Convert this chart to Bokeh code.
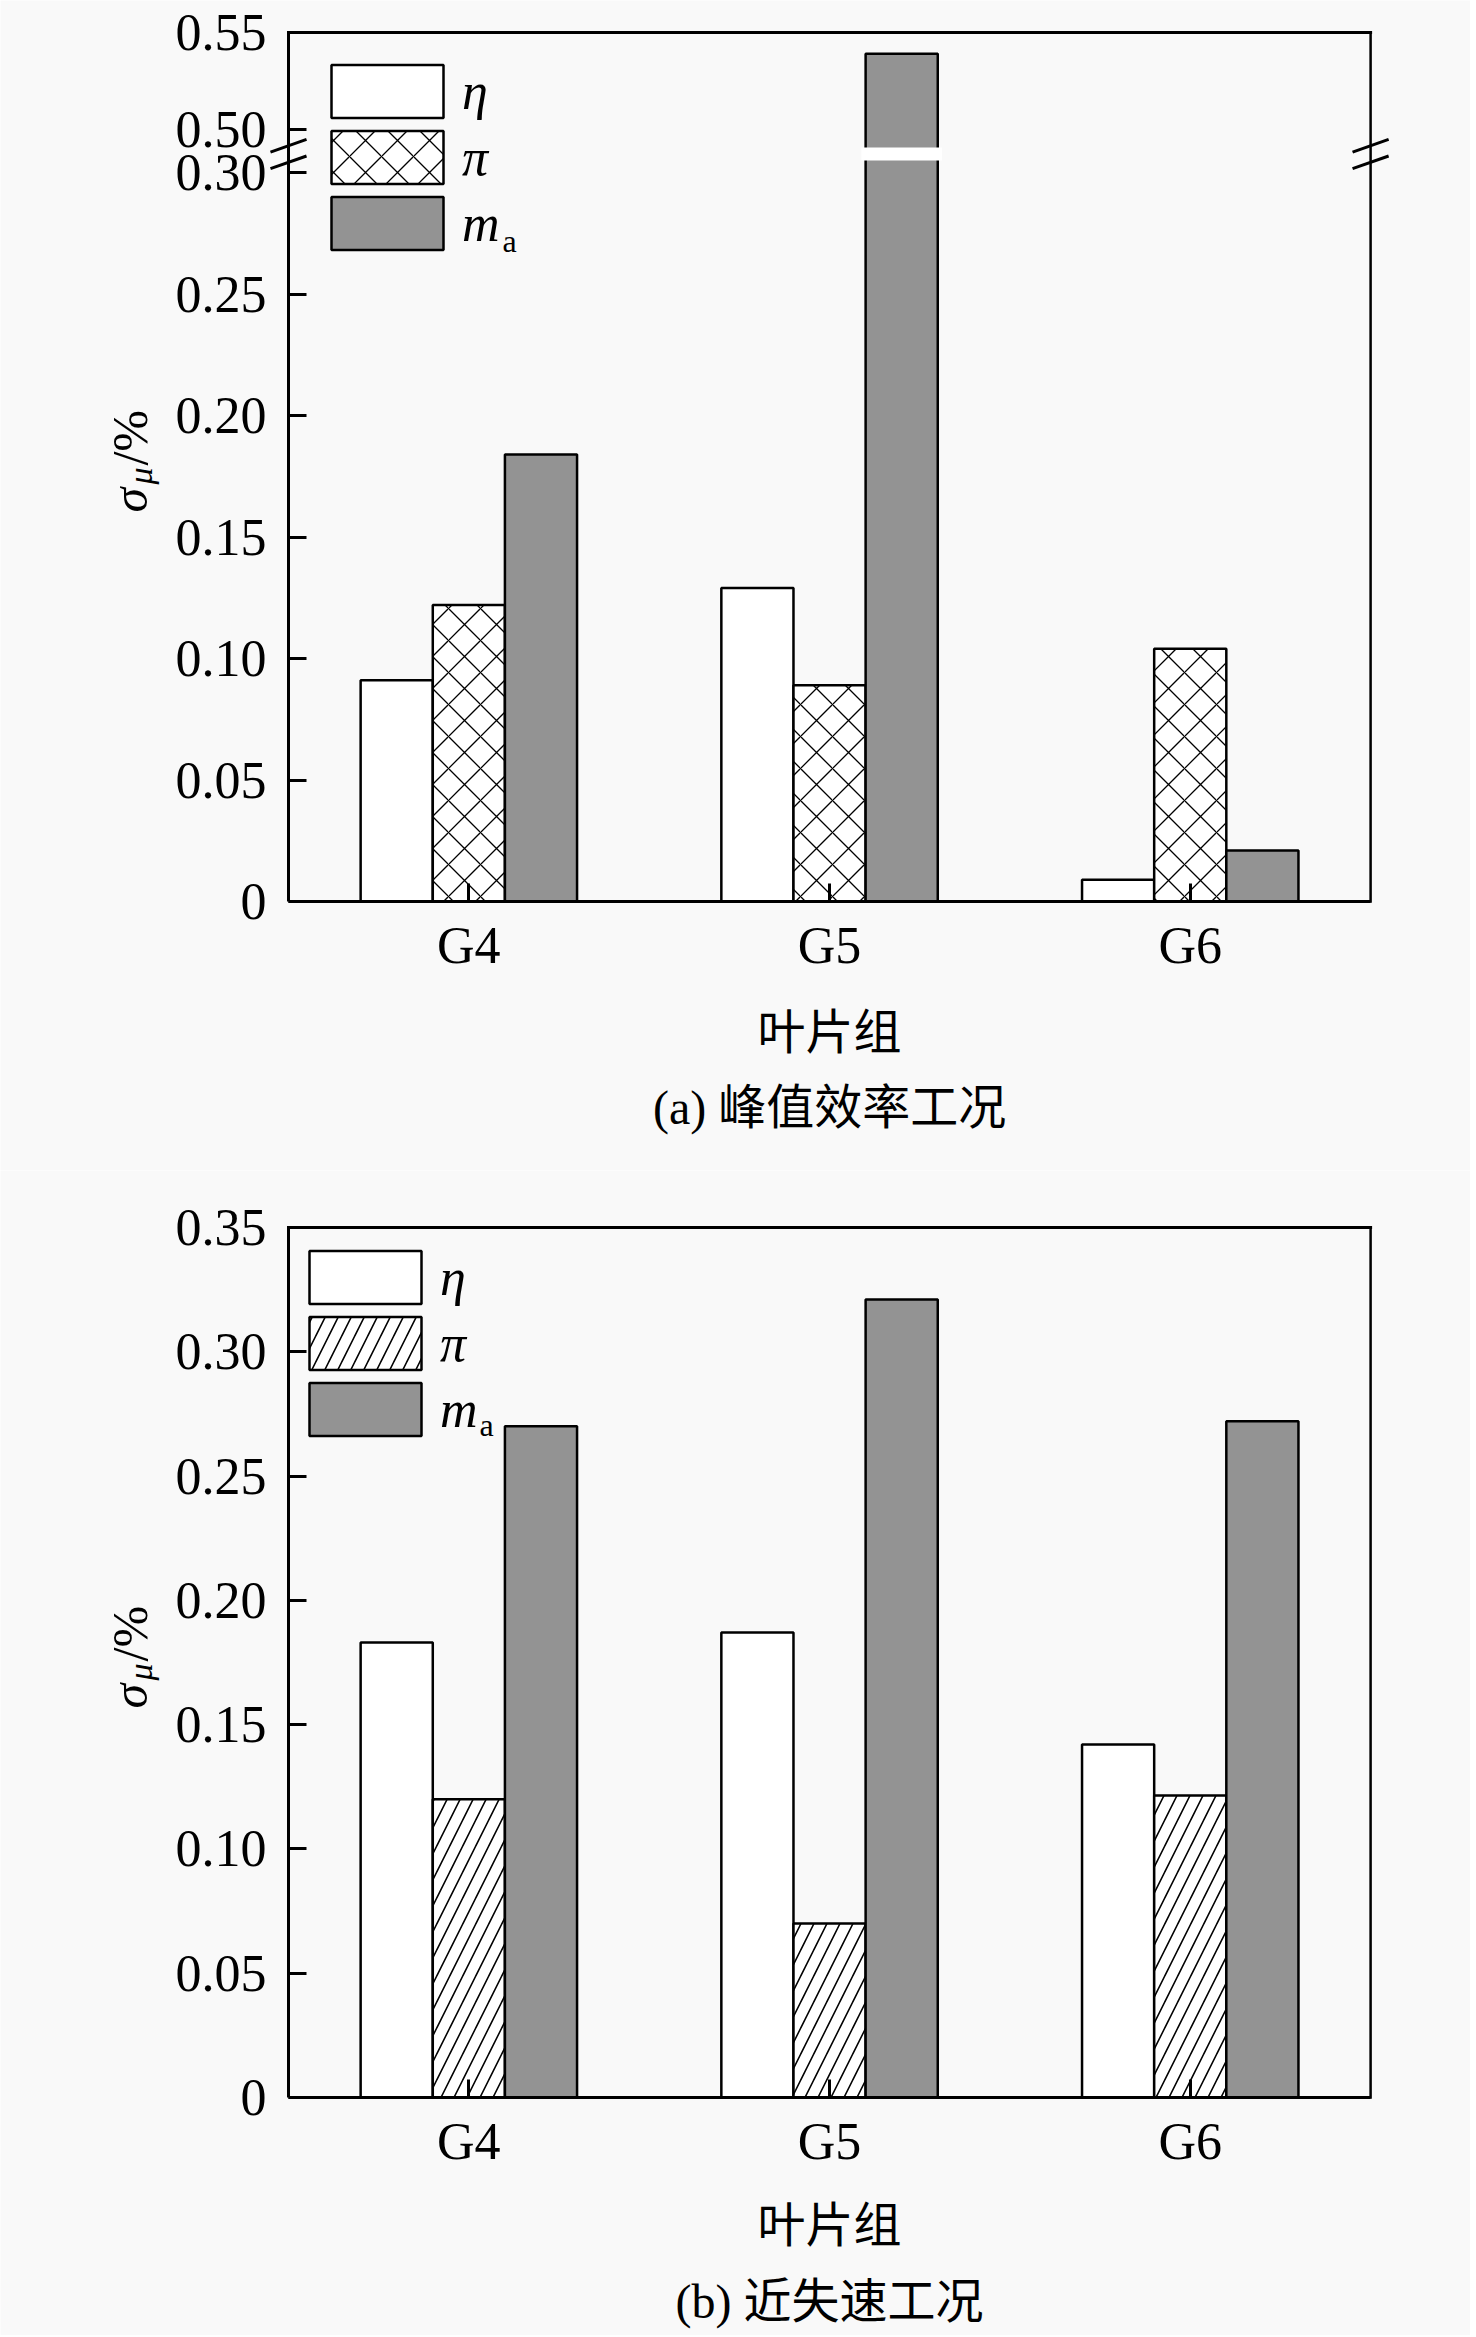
import math
from bokeh.plotting import figure
from bokeh.models import (Range1d, FixedTicker, Legend, LegendItem, Label,
                          BoxAnnotation, Arrow)
from bokeh.layouts import column
from bokeh.embed import file_html
from bokeh.resources import INLINE

# ---------------- data ----------------
groups = ["G4", "G5", "G6"]
series_labels = ["η", "π", "m"]

peak_eta = [0.091, 0.129, 0.009]
peak_pi = [0.122, 0.089, 0.104]
peak_ma = [0.184, 0.539, 0.021]

stall_eta = [0.183, 0.187, 0.142]
stall_pi = [0.120, 0.070, 0.1215]
stall_ma = [0.270, 0.321, 0.272]

peak_ticks = [0, 0.05, 0.10, 0.15, 0.20, 0.25, 0.30, 0.50, 0.55]
peak_tick_labels = ["0", "0.05", "0.10", "0.15", "0.20", "0.25", "0.30", "0.50", "0.55"]
stall_ticks = [0, 0.05, 0.10, 0.15, 0.20, 0.25, 0.30, 0.35]
stall_tick_labels = ["0", "0.05", "0.10", "0.15", "0.20", "0.25", "0.30", "0.35"]

caption_a = "(a) 峰值效率工况"
caption_b = "(b) 近失速工况"
xlabel = "叶片组"

# ---------------- broken-axis mapping (top chart) ----------------
BREAK_AT = 0.31      # values above this are drawn on the upper segment
UPPER_BASE = 0.50    # first value of the upper segment
UPPER_POS = 0.3177   # display position of UPPER_BASE
UPPER_K = 0.798      # scale of the upper segment relative to the lower one
GAP_LO, GAP_HI = 0.3049, 0.3103


def to_display(v):
    return v if v <= BREAK_AT else UPPER_POS + (v - UPPER_BASE) * UPPER_K


BG = "#f9f9f9"
GRAY = "#939393"
SERIF = "Liberation Serif"
MIXED = "Liberation Serif, Noto Sans CJK SC"
FS = "52px"
BAR_W = 0.2
offsets = [-0.2, 0.0, 0.2]

# page layout (pixels)
FIG_W = 1470
X0_PX = 288.0          # x of the plot box left edge
PX_PER_X = 360.7       # pixels per category unit


def make_fig(height, y_lo, y_hi, y_top, ticks_pos, tick_labels):
    x_lo = -X0_PX / PX_PER_X
    x_hi = (FIG_W - X0_PX) / PX_PER_X
    p = figure(width=FIG_W, height=height, x_range=Range1d(x_lo, x_hi),
               y_range=Range1d(y_lo, y_hi), output_backend="svg",
               toolbar_location=None, min_border=0, min_border_left=0,
               min_border_right=0, min_border_top=0, min_border_bottom=0,
               background_fill_color=BG, border_fill_color=BG)
    p.grid.visible = False
    p.outline_line_color = None
    for ax in (p.xaxis[0], p.yaxis[0]):
        ax.fixed_location = 0
        ax.axis_line_width = 3
        ax.axis_line_color = "black"
        ax.major_tick_line_width = 3
        ax.major_tick_line_color = "black"
        ax.major_tick_in = 18
        ax.major_tick_out = 0
        ax.minor_tick_line_color = None
        ax.major_label_text_font = SERIF
        ax.major_label_text_font_size = FS
        ax.major_label_text_color = "black"
    xt = [i + 0.5 for i in range(len(groups))]
    p.xaxis.bounds = (0, len(groups))
    p.xaxis.ticker = FixedTicker(ticks=xt)
    p.xaxis.major_label_overrides = {t: g for t, g in zip(xt, groups)}
    p.xaxis.major_label_standoff = 15
    p.yaxis.bounds = (0, y_top)
    p.yaxis.ticker = FixedTicker(ticks=ticks_pos)
    p.yaxis.major_label_overrides = {t: l for t, l in zip(ticks_pos, tick_labels)}
    p.yaxis.major_label_standoff = 22
    # top and right border of the plot box
    p.segment(x0=[0], y0=[y_top], x1=[len(groups)], y1=[y_top],
              line_color="black", line_width=3, line_cap="square")
    p.segment(x0=[len(groups)], y0=[0], x1=[len(groups)], y1=[y_top],
              line_color="black", line_width=2.5, line_cap="square")
    return p


def add_bars(p, eta, pi, ma, pattern, hscale, hweight):
    xs = [[i + 0.5 + off for i in range(len(groups))] for off in offsets]
    r1 = p.vbar(x=xs[0], top=eta, width=BAR_W, fill_color="white",
                line_color="black", line_width=2.5)
    r2 = p.vbar(x=xs[1], top=pi, width=BAR_W, fill_color="white",
                line_color="black", line_width=2.5, hatch_pattern=pattern,
                hatch_color="black", hatch_scale=hscale, hatch_weight=hweight)
    r3 = p.vbar(x=xs[2], top=ma, width=BAR_W, fill_color=GRAY,
                line_color="black", line_width=2.5)
    return [r1, r2, r3], xs


def add_legend(p, rends, loc):
    items = [LegendItem(label=lab, renderers=[r]) for lab, r in zip(series_labels, rends)]
    lg = Legend(items=items, location=loc, glyph_width=140, glyph_height=66,
                label_standoff=5, spacing=0, padding=0, margin=0,
                border_line_alpha=0, background_fill_alpha=0,
                label_text_font=SERIF, label_text_font_size="52px",
                label_text_font_style="italic", label_text_color="black")
    p.add_layout(lg, "center")


def add_texts(p, ylab_pos, sub_a, xlab_y, cap_y, caption):
    (sx, sy), (mx, my), (px, py) = ylab_pos
    p.add_layout(Label(x=sx, y=sy, text="σ", angle=math.pi / 2, text_font=SERIF,
                       text_font_size="50px", text_font_style="italic",
                       text_baseline="alphabetic", text_align="left", text_color="black"))
    p.add_layout(Label(x=mx, y=my, text="μ", angle=math.pi / 2, text_font=SERIF,
                       text_font_size="34px", text_font_style="italic",
                       text_baseline="alphabetic", text_align="left", text_color="black"))
    p.add_layout(Label(x=px, y=py, text="/%", angle=math.pi / 2, text_font=SERIF,
                       text_font_size="50px", text_baseline="alphabetic",
                       text_align="left", text_color="black"))
    p.add_layout(Label(x=sub_a[0], y=sub_a[1], text="a", text_font=SERIF,
                       text_font_size="32px", text_baseline="middle",
                       text_align="center", text_color="black"))
    p.add_layout(Label(x=1.5, y=xlab_y, text=xlabel, text_font=MIXED,
                       text_font_size="48px", text_baseline="middle",
                       text_align="center", text_color="black"))
    p.add_layout(Label(x=1.5, y=cap_y, text=caption, text_font=MIXED,
                       text_font_size="48px", text_baseline="middle",
                       text_align="center", text_color="black"))


# ---------------- top chart: peak efficiency ----------------
H1 = 1170
BOT1_PX, PX_PER_Y1 = 901.0, 2430.0
top_ticks = [to_display(t) for t in peak_ticks]
p1 = make_fig(H1, (BOT1_PX - H1) / PX_PER_Y1, BOT1_PX / PX_PER_Y1,
              to_display(0.55), top_ticks, peak_tick_labels)
r_top, xs_top = add_bars(p1, [to_display(v) for v in peak_eta],
                         [to_display(v) for v in peak_pi],
                         [to_display(v) for v in peak_ma], "x", 32, 1.3)
add_legend(p1, r_top, (317, 914))
add_texts(p1, [(-0.440, 0.1601), (-0.411, 0.1716), (-0.440, 0.1794)],
          (0.613, 0.272), -0.0539, -0.0848, caption_a)

# white gap through bars that cross the break
for k, vals in enumerate([peak_eta, peak_pi, peak_ma]):
    for i, v in enumerate(vals):
        if v > BREAK_AT:
            xc = xs_top[k][i]
            p1.add_layout(BoxAnnotation(left=xc - BAR_W / 2 - 0.012, right=xc + BAR_W / 2 + 0.012,
                                        bottom=GAP_LO, top=GAP_HI, fill_color="white",
                                        fill_alpha=1.0, line_alpha=0))

# break marks on left and right sides
gap_mid = (GAP_LO + GAP_HI) / 2
for xe in (0.0, float(len(groups))):
    for dy in (-0.0034, 0.0034):
        p1.add_layout(Arrow(end=None, x_start=xe - 0.05, y_start=gap_mid + dy - 0.0026,
                            x_end=xe + 0.05, y_end=gap_mid + dy + 0.0026,
                            line_width=3, line_color="black"))

# ---------------- bottom chart: near stall ----------------
H2 = 1165
TOP2_PX = 1170.0
BOT2_PX, PX_PER_Y2 = 2097.0 - TOP2_PX, 2486.0
p2 = make_fig(H2, (BOT2_PX - H2) / PX_PER_Y2, BOT2_PX / PX_PER_Y2,
              0.35, stall_ticks, stall_tick_labels)
r_bot, xs_bot = add_bars(p2, stall_eta, stall_pi, stall_ma, "/", 26, 1.6)
add_legend(p2, r_bot, (295, 893))
add_texts(p2, [(-0.440, 0.1565), (-0.411, 0.1677), (-0.440, 0.1754)],
          (0.549, 0.2707), -0.0515, -0.0821, caption_b)

layout = column(p1, p2, spacing=0)
open("out.html", "w").write(file_html(layout, INLINE))
